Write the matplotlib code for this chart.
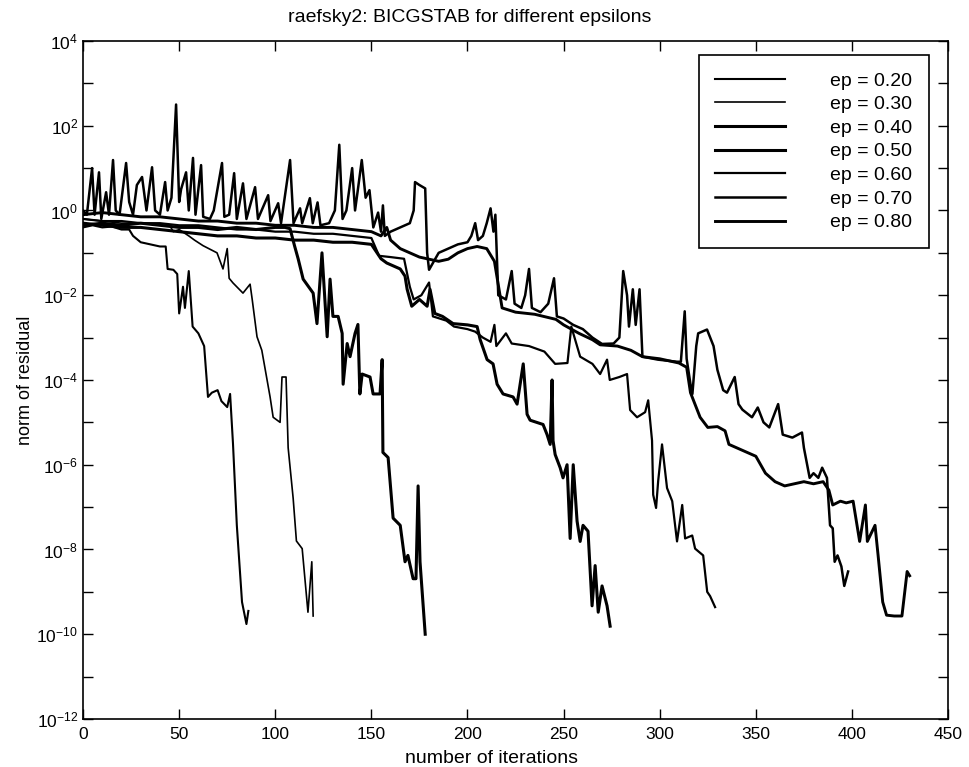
import matplotlib
matplotlib.use('Agg')
import matplotlib.pyplot as plt
import numpy as np

plt.rcParams['font.family'] = ['Liberation Sans', 'DejaVu Sans']
plt.rcParams['mathtext.fontset'] = 'custom'
plt.rcParams['mathtext.rm'] = 'Liberation Sans'
plt.rcParams['mathtext.it'] = 'Liberation Sans'

# iterations and log10(norm of residual)
it_020 = [0, 5, 10, 15, 20, 24, 26, 30, 35, 40, 43, 44, 47, 49, 50, 52, 53, 55, 57, 60, 63,
          65, 67, 70, 72, 75, 76.5, 78, 80, 82.7, 85, 86]
lg_020 = [-0.4, -0.35, -0.4, -0.38, -0.45, -0.45, -0.6, -0.75, -0.8, -0.85, -0.85, -1.38, -1.4,
          -1.5, -2.43, -1.8, -2.3, -1.43, -2.74, -2.9, -3.2, -4.4, -4.3, -4.24, -4.5, -4.64,
          -4.33, -5.5, -7.43, -9.24, -9.76, -9.45]

it_030 = [0, 10, 20, 30, 40, 45, 47, 50, 55, 58, 62.4, 69.7, 72.8, 75, 76, 78, 83.2, 86.9,
          88, 90.5, 93, 97.3, 98.9, 102.5, 103.5, 105.6, 106.7, 109.3, 111, 114, 117, 119, 119.7]
lg_030 = [-0.2, -0.25, -0.3, -0.3, -0.35, -0.35, -0.5, -0.45, -0.6, -0.7, -0.83, -1.0, -1.38,
          -0.9, -1.6, -1.71, -1.95, -1.74, -2.1, -2.98, -3.3, -4.4, -4.88, -5.0, -3.93, -3.93,
          -5.6, -6.79, -7.8, -7.98, -9.48, -8.29, -9.57]

it_040 = [0, 10, 20, 30, 40, 50, 60, 70, 80, 90, 100, 105, 107.7, 110, 111.9, 114.5, 119.7,
          121.7, 124.3, 127, 128.5, 130, 132.7, 134.8, 135.3, 137.4, 138.9, 141.5, 143, 144,
          145.2, 149.3, 150.9, 154.5, 155.6, 156, 158.7, 161.3, 165, 167.5, 169, 171.7, 173.2,
          174.3, 175.3, 178]
lg_040 = [-0.35, -0.3, -0.35, -0.3, -0.35, -0.4, -0.4, -0.45, -0.4, -0.45, -0.4, -0.4, -0.43,
          -0.83, -1.14, -1.62, -1.95, -2.67, -1.0, -2.98, -1.62, -2.5, -2.5, -2.9, -4.1, -3.14,
          -3.45, -2.9, -2.69, -4.33, -3.86, -3.93, -4.33, -4.33, -3.52, -5.71, -5.83, -7.26,
          -7.43, -8.29, -8.14, -8.69, -8.69, -6.5, -8.29, -10.0]

it_050 = [0, 10, 20, 30, 40, 50, 60, 70, 80, 90, 100, 110, 120, 130, 140, 150, 155, 158, 165,
          167.5, 168.6, 171, 175, 179, 180.5, 183, 187, 192.5, 200, 205, 206.6, 210.2, 213.3,
          215.4, 218.5, 223.7, 225.8, 229, 231, 232.6, 239.3, 241.4, 243, 244, 244.5, 245.6,
          248.2, 249.7, 251.8, 253.4, 255, 257, 258.6, 260.1, 262.7, 264.8, 266.4, 268, 270,
          272.6, 274.2]
lg_050 = [-0.3, -0.35, -0.4, -0.4, -0.45, -0.5, -0.55, -0.6, -0.6, -0.65, -0.65, -0.7, -0.7,
          -0.75, -0.75, -0.8, -1.14, -1.24, -1.38, -1.55, -1.86, -2.26, -2.1, -2.26, -1.86,
          -2.43, -2.5, -2.67, -2.7, -2.74, -3.05, -3.52, -3.62, -4.1, -4.33, -4.4, -4.57,
          -3.62, -4.81, -4.95, -5.05, -5.29, -5.52, -4.0, -5.43, -5.76, -6.07, -6.31, -6.0,
          -7.74, -6.0, -7.33, -7.81, -7.43, -7.57, -9.33, -8.38, -9.48, -8.86, -9.33, -9.81]

it_060 = [0, 10, 20, 30, 40, 50, 60, 70, 80, 90, 100, 110, 120, 130, 140, 150, 154, 160, 167,
          170, 172, 176, 180, 182, 189, 193, 200, 204, 208, 212, 214, 215, 220, 223, 232, 240,
          245.6, 252, 254, 258.6, 265, 269, 272.6, 274, 279, 283, 284.6, 288.2, 292.4, 294,
          296, 296.6, 298.1, 299.2, 301.2, 303.8, 306.5, 309, 311.7, 313.2, 316.9, 318.4,
          322.6, 324.7, 326.2, 328.8]
lg_060 = [-0.2, -0.25, -0.25, -0.3, -0.3, -0.35, -0.35, -0.4, -0.45, -0.45, -0.5, -0.5, -0.55,
          -0.55, -0.6, -0.65, -1.07, -1.1, -1.14, -1.8, -2.1, -2.0, -1.7, -2.5, -2.6, -2.74,
          -2.8, -2.86, -3.0, -3.1, -2.7, -3.2, -2.9, -3.14, -3.2, -3.33, -3.62, -3.6, -2.74,
          -3.45, -3.62, -3.86, -3.52, -4.0, -3.93, -3.86, -4.71, -4.88, -4.76, -4.48, -5.43,
          -6.71, -7.02, -6.38, -5.52, -6.55, -6.86, -7.81, -6.95, -7.74, -7.67, -7.98, -8.14,
          -9.0, -9.1, -9.36]

it_070 = [0, 2, 4.7, 6, 8.3, 9.5, 12, 13.5, 15.6, 17, 19, 22.4, 24, 26, 28, 30.7, 33, 35.9,
          37.5, 40, 42.7, 44, 46, 48.4, 50, 51, 53.6, 55, 57.2, 58.5, 61.4, 62.5, 66, 68, 72.3,
          73.5, 76, 78.6, 80, 83.2, 85, 89.5, 91, 96.3, 97.5, 101.5, 103, 107.7, 109.5, 112.9,
          114, 118, 119.5, 122, 123.5, 128, 131, 133.3, 135, 137, 140, 141.5, 143, 145, 147,
          149, 151, 153.5, 155, 156, 157, 160, 165, 170, 172, 172.7, 175, 178, 179, 180, 185,
          190, 195, 200, 202, 204, 205.5, 208, 210, 212, 213.5, 214.5, 216, 220, 223, 224.5,
          228, 230, 232, 233.5, 238, 242, 245, 246.5, 250, 255, 260, 265, 270, 276, 279, 281,
          283, 284, 286, 287.5, 289.5, 291, 299, 309, 311, 313, 314, 316, 317, 319, 320, 324.6,
          328, 330, 333, 335, 339, 341, 343, 346, 348, 351, 354, 357, 361.6, 364, 369, 374,
          375, 378, 380, 382.5, 384.5, 387, 388.6, 390, 391, 392.5, 394.5, 396, 398]
lg_070 = [0.0, -0.1, 1.0, -0.1, 0.9, -0.2, 0.43, -0.1, 1.19, 0.0, -0.1, 1.12, 0.2, -0.1, 0.6,
          0.79, 0.0, 1.02, 0.0, -0.1, 0.67, 0.0, 0.3, 2.5, 0.2, 0.5, 0.9, 0.0, 1.24, -0.1, 1.07,
          -0.15, -0.2, 0.0, 1.12, -0.15, -0.1, 0.88, -0.2, 0.64, -0.2, 0.55, -0.2, 0.36, -0.25,
          0.17, -0.3, 1.19, -0.3, 0.05, -0.3, 0.29, -0.3, 0.19, -0.35, -0.3, 0.0, 1.55, -0.2,
          0.0, 1.0, 0.0, 0.5, 1.19, 0.3, 0.48, -0.4, -0.05, -0.5, 0.12, -0.6, -0.5, -0.4, -0.3,
          0.0, 0.67, 0.6, 0.52, -1.0, -1.4, -1.0, -0.9, -0.8, -0.75, -0.6, -0.3, -0.7, -0.6,
          -0.3, 0.05, -0.5, -0.1, -2.0, -2.1, -1.43, -2.2, -2.3, -2.0, -1.38, -2.3, -2.4, -2.2,
          -1.6, -2.5, -2.55, -2.7, -2.8, -3.0, -3.15, -3.14, -3.0, -1.43, -2.0, -2.74, -1.86,
          -2.7, -1.86, -3.45, -3.52, -3.57, -3.57, -2.38, -3.5, -4.1, -4.33, -3.2, -2.9, -2.81,
          -3.2, -3.76, -4.24, -4.3, -3.93, -4.57, -4.7, -4.81, -4.88, -4.65, -5.0, -5.12, -4.57,
          -5.29, -5.36, -5.24, -5.6, -6.31, -6.2, -6.31, -6.07, -6.31, -7.43, -7.5, -8.29, -8.14,
          -8.4, -8.86, -8.52]

it_080 = [0, 10, 20, 30, 40, 50, 60, 70, 80, 90, 100, 110, 120, 130, 140, 150, 155, 158, 160,
          165, 170, 175, 180, 185, 190, 195, 200, 205, 210, 214, 218, 225, 235, 246, 250, 258,
          265, 269, 278, 285, 291, 300, 310, 314, 316, 321, 325, 330, 334, 336, 340, 345, 350,
          355, 360, 365, 370, 375, 380, 385, 388, 390, 394, 397, 400.6, 404, 407, 408, 412,
          413.6, 416, 418, 422, 426, 428.7, 430]
lg_080 = [-0.1, -0.05, -0.1, -0.15, -0.15, -0.2, -0.25, -0.25, -0.3, -0.3, -0.35, -0.35, -0.4,
          -0.4, -0.45, -0.5, -0.6, -0.4, -0.7, -0.9, -1.0, -1.1, -1.15, -1.2, -1.15, -1.0, -0.9,
          -0.85, -0.9, -1.2, -2.3, -2.4, -2.45, -2.57, -2.7, -2.9, -3.05, -3.17, -3.2, -3.3,
          -3.45, -3.5, -3.6, -3.7, -4.3, -4.88, -5.12, -5.1, -5.2, -5.52, -5.6, -5.7, -5.8,
          -6.2, -6.4, -6.5, -6.45, -6.4, -6.45, -6.4, -6.6, -6.95, -6.86, -6.9, -6.86, -7.81,
          -6.95, -7.81, -7.43, -8.14, -9.24, -9.55, -9.57, -9.57, -8.52, -8.62]

curves = [
    ('ep = 0.20', it_020, lg_020, 1.5),
    ('ep = 0.30', it_030, lg_030, 1.2),
    ('ep = 0.40', it_040, lg_040, 2.2),
    ('ep = 0.50', it_050, lg_050, 2.2),
    ('ep = 0.60', it_060, lg_060, 1.6),
    ('ep = 0.70', it_070, lg_070, 1.8),
    ('ep = 0.80', it_080, lg_080, 2.1),
]

fig = plt.figure(figsize=(9.69, 7.67), dpi=100)
ax = fig.add_axes([0.0857, 0.0626, 0.8927, 0.884])

for label, its, lg, lw in curves:
    ax.semilogy(its, 10.0 ** np.array(lg), color='black', lw=lw, label=label)

ax.set_xlim(0, 450)
ax.set_ylim(1e-12, 1e4)
ax.set_xticks(np.arange(0, 451, 50))
ax.set_yticks([10.0 ** k for k in range(-12, 5)])
ax.set_yticklabels(['$10^{%d}$' % k if k % 2 == 0 else '' for k in range(-12, 5)])
ax.minorticks_off()
ax.tick_params(direction='in', top=True, right=True, length=7, width=1, labelsize=12.5)
ax.tick_params(axis='x', pad=6)
for s in ax.spines.values():
    s.set_linewidth(1.2)

ax.set_xlabel('number of iterations', fontsize=14)
ax.xaxis.set_label_coords(0.472, -0.046)
ax.set_ylabel('norm of residual', fontsize=13, labelpad=2)
ax.set_title('raefsky2: BICGSTAB for different epsilons', fontsize=14, x=0.447, pad=14)

leg = ax.legend(loc='upper right', bbox_to_anchor=(0.978, 0.979), borderaxespad=0,
                fontsize=14, handlelength=3.6, handletextpad=2.3, labelspacing=0.31,
                fancybox=False, framealpha=1, edgecolor='black', borderpad=0.86)
leg.get_frame().set_linewidth(1.2)

fig.savefig('out.png', dpi=100)
